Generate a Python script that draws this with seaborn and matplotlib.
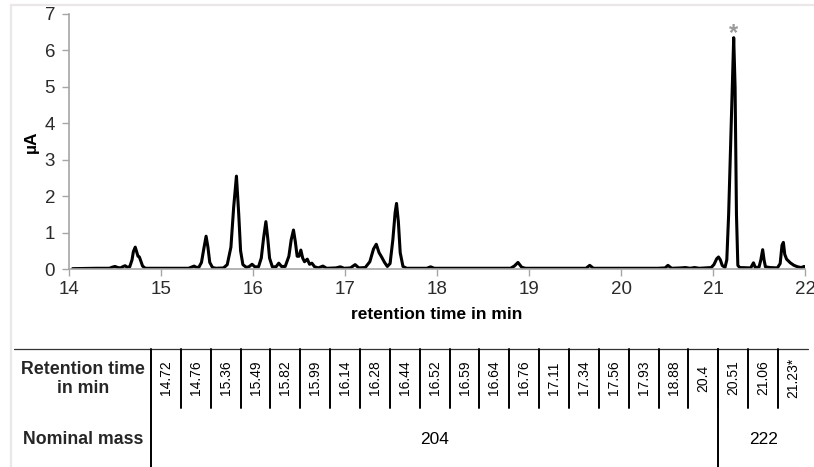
import matplotlib
matplotlib.use("Agg")
import matplotlib.pyplot as plt
from matplotlib.lines import Line2D
from matplotlib.patches import Rectangle
import seaborn as sns
import pandas as pd

# Chromatogram trace: retention time (min) and detector signal (µA)
rt_min = [
    14.04, 14.30, 14.44, 14.47, 14.50, 14.53, 14.56, 14.59, 14.61, 14.63,
    14.66, 14.685, 14.70, 14.72, 14.735, 14.75, 14.765, 14.78, 14.80, 14.83,
    14.90, 15.30, 15.34, 15.36, 15.38, 15.41, 15.44, 15.465, 15.49, 15.51,
    15.53, 15.56, 15.60, 15.68, 15.72, 15.76, 15.79, 15.82, 15.845, 15.865,
    15.89, 15.93, 15.96, 15.99, 16.02, 16.06, 16.09, 16.115, 16.14, 16.16,
    16.18, 16.21, 16.25, 16.28, 16.31, 16.35, 16.39, 16.415, 16.44, 16.46,
    16.48, 16.50, 16.52, 16.54, 16.56, 16.59, 16.615, 16.64, 16.67, 16.71,
    16.76, 16.80, 16.90, 16.95, 16.99, 17.06, 17.11, 17.15, 17.22, 17.27,
    17.31, 17.34, 17.37, 17.40, 17.43, 17.46, 17.49, 17.52, 17.545, 17.56,
    17.58, 17.60, 17.63, 17.67, 17.89, 17.93, 17.97, 18.80, 18.84, 18.88,
    18.92, 18.96, 19.62, 19.66, 19.70, 20.40, 20.48, 20.51, 20.55, 20.65,
    20.70, 20.75, 20.80, 20.85, 20.98, 21.01, 21.04, 21.06, 21.08, 21.10,
    21.13, 21.15, 21.17, 21.20, 21.225, 21.24, 21.255, 21.27, 21.29, 21.41,
    21.44, 21.46, 21.50, 21.52, 21.54, 21.555, 21.57, 21.62, 21.70, 21.73,
    21.75, 21.765, 21.78, 21.80, 21.84, 21.88, 21.92, 21.96, 21.99, 22.00,
]
signal_uA = [
    0.01, 0.02, 0.02, 0.05, 0.07, 0.04, 0.03, 0.07, 0.09, 0.05,
    0.06, 0.25, 0.48, 0.60, 0.48, 0.35, 0.33, 0.22, 0.08, 0.02,
    0.02, 0.02, 0.06, 0.08, 0.05, 0.04, 0.18, 0.55, 0.90, 0.60,
    0.18, 0.04, 0.02, 0.03, 0.12, 0.60, 1.70, 2.55, 1.50, 0.50,
    0.12, 0.04, 0.07, 0.13, 0.06, 0.06, 0.30, 0.85, 1.30, 0.85,
    0.30, 0.06, 0.06, 0.16, 0.07, 0.07, 0.35, 0.80, 1.07, 0.75,
    0.35, 0.35, 0.52, 0.30, 0.20, 0.27, 0.13, 0.16, 0.06, 0.03,
    0.08, 0.02, 0.03, 0.06, 0.02, 0.03, 0.12, 0.03, 0.04, 0.20,
    0.55, 0.68, 0.45, 0.32, 0.18, 0.07, 0.15, 0.80, 1.55, 1.80,
    1.30, 0.45, 0.07, 0.02, 0.02, 0.06, 0.02, 0.02, 0.08, 0.18,
    0.05, 0.02, 0.02, 0.10, 0.02, 0.02, 0.03, 0.10, 0.02, 0.03,
    0.04, 0.02, 0.04, 0.02, 0.04, 0.12, 0.28, 0.33, 0.25, 0.10,
    0.04, 0.25, 1.50, 4.20, 6.35, 5.00, 1.50, 0.10, 0.04, 0.03,
    0.17, 0.04, 0.05, 0.25, 0.53, 0.25, 0.06, 0.04, 0.03, 0.15,
    0.65, 0.73, 0.40, 0.27, 0.17, 0.10, 0.06, 0.04, 0.07, 0.05,
]

# Marked peak
marked_rt = 21.225
marked_signal = 6.35

# Peak table below the chromatogram
table_rts = ["14.72", "14.76", "15.36", "15.49", "15.82", "15.99", "16.14",
             "16.28", "16.44", "16.52", "16.59", "16.64", "16.76", "17.11",
             "17.34", "17.56", "17.93", "18.88", "20.4", "20.51", "21.06",
             "21.23*"]
mass_labels = ["204", "222"]
mass_counts = [19, 3]

x_ticks = [14, 15, 16, 17, 18, 19, 20, 21, 22]
y_ticks = [0, 1, 2, 3, 4, 5, 6, 7]

sns.set_theme(style="white")
plt.rcParams["font.family"] = ["Liberation Sans", "DejaVu Sans"]

W, H = 814, 467
fig = plt.figure(figsize=(W / 100, H / 100), dpi=100)


def fx(px):
    return px / W


def fy(py):
    return 1 - py / H


# Chart area frame
fig.add_artist(Rectangle((fx(11), fy(470)), fx(820) - fx(11), fy(5) - fy(470),
                         transform=fig.transFigure, fill=False,
                         edgecolor="#ECE7E7", linewidth=1.6))

ax_l, ax_r, ax_t, ax_b = 69, 805, 14, 269
ax = fig.add_axes([fx(ax_l), fy(ax_b), fx(ax_r) - fx(ax_l), fy(ax_t) - fy(ax_b)])

df = pd.DataFrame({"rt": rt_min, "signal": signal_uA})
sns.lineplot(data=df, x="rt", y="signal", ax=ax, color="black",
             linewidth=2.2, sort=False, estimator=None)

ax.set_xlim(x_ticks[0], x_ticks[-1])
ax.set_ylim(y_ticks[0], y_ticks[-1])
ax.set_xticks(x_ticks)
ax.set_yticks(y_ticks)
ax.set_xticklabels([str(v) for v in x_ticks])
ax.set_yticklabels([str(v) for v in y_ticks])

for s in ["top", "right"]:
    ax.spines[s].set_visible(False)
for s in ["left", "bottom"]:
    ax.spines[s].set_color("#A6A6A6")
    ax.spines[s].set_linewidth(1.2)
ax.tick_params(axis="both", which="major", direction="out", length=5,
               width=1.0, color="#A6A6A6", labelsize=13.5, labelcolor="#2b2b2b")
ax.tick_params(axis="x", pad=3.5, bottom=True)
ax.tick_params(axis="y", pad=5, left=True)

ax.set_xlabel("retention time in min", fontsize=12.5, fontweight="bold",
              color="black")
ax.set_ylabel("µA", fontsize=12.5, fontweight="bold", color="black")
ax.xaxis.set_label_coords(0.5, (ax_b - 307) / (ax_b - ax_t))
ax.yaxis.set_label_coords((39 - ax_l) / (ax_r - ax_l), 0.5)

ax.annotate("*", xy=(marked_rt, marked_signal), xytext=(0, -2),
            textcoords="offset points", ha="center", va="baseline",
            fontsize=17, fontweight="bold", color="#9a9a9a")

# Table drawn in pixel coordinates on an overlay axes
tax = fig.add_axes([0, 0, 1, 1])
tax.set_xlim(0, W)
tax.set_ylim(H, 0)
tax.axis("off")
tax.patch.set_alpha(0)

tbl_top, row_split, tbl_bottom = 349, 408, 470
col0, col_w = 151, 29.86
lw = 1.4

tax.add_line(Line2D([14, 808], [tbl_top, tbl_top], color="#333333", lw=0.9))
tax.add_line(Line2D([col0, col0], [tbl_top, tbl_bottom], color="black", lw=lw))

for i, label in enumerate(table_rts):
    cx = col0 + col_w * (i + 0.5)
    tax.text(cx, 378, label, rotation=90, ha="center", va="center",
             fontsize=10, color="black")
    if i < len(table_rts) - 1:
        sx = col0 + col_w * (i + 1)
        tax.add_line(Line2D([sx, sx], [tbl_top, row_split], color="black", lw=lw))

start = 0
for label, n in zip(mass_labels, mass_counts):
    x0 = col0 + col_w * start
    x1 = col0 + col_w * (start + n)
    tax.text((x0 + x1) / 2, 439, label, ha="center", va="center",
             fontsize=12.5, color="black")
    start += n
    if start < len(table_rts):
        tax.add_line(Line2D([x1, x1], [tbl_top, tbl_bottom], color="black", lw=lw))

tax.text(83, 379, "Retention time\nin min", ha="center", va="center",
         fontsize=12.8, fontweight="bold", linespacing=1.1)
tax.text(83, 439, "Nominal mass", ha="center", va="center",
         fontsize=12.8, fontweight="bold")

fig.savefig("out.png", dpi=100)
